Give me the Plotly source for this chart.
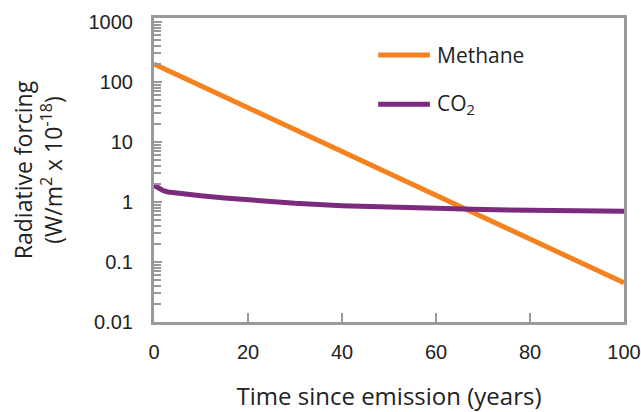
import plotly.graph_objects as go

# Data
years = [0, 20, 40, 60, 80, 100]
methane = [200, 37, 6.9, 1.29, 0.24, 0.045]

co2_years = [0, 1, 2, 3, 5, 7, 10, 15, 20, 25, 30, 40, 50, 60, 70, 80, 90, 100]
co2 = [1.9, 1.68, 1.55, 1.47, 1.40, 1.34, 1.27, 1.17, 1.08, 1.01, 0.95,
       0.87, 0.82, 0.78, 0.75, 0.73, 0.715, 0.70]

x_ticks = [0, 20, 40, 60, 80, 100]
y_ticks = [0.01, 0.1, 1, 10, 100, 1000]
y_tick_labels = ["0.01", "0.1", "1", "10", "100", "1000"]

series = [
    ("Methane", years, methane, "#F5821F"),
    ("CO<sub>2</sub>", co2_years, co2, "#7B2A7D"),
]

FONT = "Liberation Sans, Arial, sans-serif"
TFONT = "Open Sans, Liberation Sans, sans-serif"
AXC = "#999999"

minor_vals = [m * d for d in y_ticks[:-1] for m in range(2, 10)]

fig = go.Figure()
for name, xs, ys, col in series:
    fig.add_trace(go.Scatter(x=xs, y=ys, mode="lines", name=name,
                             line=dict(color=col, width=5), showlegend=False))

# manual legend
leg_y = [0.878, 0.716]
for (name, xs, ys, col), ly in zip(series, leg_y):
    fig.add_shape(type="line", xref="paper", yref="paper",
                  x0=0.477, x1=0.587, y0=ly, y1=ly,
                  line=dict(color=col, width=5))
    fig.add_annotation(xref="paper", yref="paper", x=0.598, y=ly,
                       text=name, showarrow=False, xanchor="left", yanchor="middle",
                       font=dict(size=21, color="#222222", family=TFONT))

fig.update_layout(
    width=641, height=412,
    margin=dict(l=154, r=17, t=18, b=90),
    paper_bgcolor="white", plot_bgcolor="white",
    font=dict(family=FONT, color="#222222"),
    xaxis=dict(
        range=[0, 100], tickvals=x_ticks, ticktext=[str(v) for v in x_ticks],
        ticks="inside", ticklen=9, tickwidth=2, tickcolor=AXC,
        showline=True, linecolor=AXC, linewidth=3, mirror=True,
        showgrid=False, zeroline=False, automargin=False,
        tickfont=dict(size=20, color="#222222"),
        ticklabelstandoff=10,
        title=dict(text="Time since emission (years)",
                   font=dict(size=24, color="#222222", family=TFONT),
                   standoff=27),
    ),
    yaxis=dict(
        type="log", range=[-2, 3.067],
        tickvals=y_ticks, ticktext=y_tick_labels,
        ticks="inside", ticklen=8, tickwidth=2, tickcolor=AXC,
        minor=dict(tickvals=minor_vals, ticks="inside", ticklen=7, tickwidth=2,
                   tickcolor=AXC, showgrid=False),
        showline=True, linecolor=AXC, linewidth=3, mirror=True,
        showgrid=False, zeroline=False, automargin=False,
        tickfont=dict(size=20, color="#222222"),
        ticklabelstandoff=14,
        title=dict(text="Radiative forcing<br>(W/m<sup>2</sup> x 10<sup>-18</sup>)",
                   font=dict(size=23, color="#222222", family=TFONT), standoff=20),
    ),
)

fig.write_html("out.html")
